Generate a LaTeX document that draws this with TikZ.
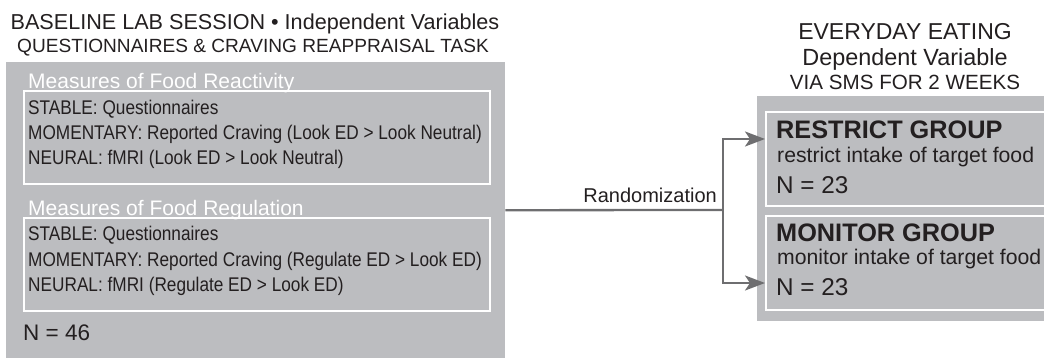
\documentclass[tikz,border=0pt]{standalone}
\usepackage{fontspec}
\setmainfont{Liberation Sans}
\newfontfamily\condfont[FakeStretch=0.87]{Liberation Sans}
\usetikzlibrary{arrows.meta}
\definecolor{boxgray}{RGB}{188,189,192}
\definecolor{ink}{RGB}{35,31,32}
\definecolor{conngray}{RGB}{110,110,112}
\tikzset{
  x=1pt, y=-1pt,
  graybox/.style={fill=boxgray, draw=none, inner sep=0pt, anchor=north west},
  innerbox/.style={fill=boxgray, draw=white, line width=2pt, inner sep=0pt, anchor=north west},
  txt/.style={inner sep=0pt, anchor=base west, text=ink},
  ctxt/.style={inner sep=0pt, anchor=base, text=ink},
  head/.style={ctxt, font=\fontsize{21.6}{26}\selectfont},
  subhead/.style={ctxt, font=\fontsize{19.1}{23}\selectfont},
  measure/.style={inner sep=0pt, anchor=base west, text=white, font=\fontsize{21}{25}\selectfont},
  body/.style={txt, font=\condfont\fontsize{19.8}{23}\selectfont},
  bignum/.style={txt, font=\fontsize{22.5}{27}\selectfont},
  grouptitle/.style={txt, font=\bfseries\fontsize{25.3}{29}\selectfont},
  groupdesc/.style={txt, font=\fontsize{21.2}{25}\selectfont},
  conn/.style={draw=conngray, line width=2.3pt},
  arr/.style={conn, -{Stealth[length=20pt,width=15pt,inset=5pt]}},
}
\begin{document}
\begin{tikzpicture}
\useasboundingbox (0,0) rectangle (1044,358);
% left block
\node[graybox, minimum width=499pt, minimum height=296pt] (lab) at (6,62) {};
\node[innerbox, minimum width=466pt, minimum height=93pt] (react) at (23,90) {};
\node[innerbox, minimum width=466pt, minimum height=93pt] (reg) at (23,217) {};
\node[head] (t1) at (255,30) {BASELINE LAB SESSION • Independent Variables};
\node[subhead] (t2) at (253,53) {QUESTIONNAIRES \& CRAVING REAPPRAISAL TASK};
\node[measure] (m1) at (28,88.5) {Measures of Food Reactivity};
\node[body] (r1) at (28,115) {STABLE: Questionnaires};
\node[body] (r2) at (28,140) {MOMENTARY: Reported Craving (Look ED > Look Neutral)};
\node[body] (r3) at (28,165) {NEURAL: fMRI (Look ED > Look Neutral)};
\node[measure] (m2) at (28,216) {Measures of Food Regulation};
\node[body] (g1) at (28,240.5) {STABLE: Questionnaires};
\node[body] (g2) at (28,266) {MOMENTARY: Reported Craving (Regulate ED > Look ED)};
\node[body] (g3) at (28,291.5) {NEURAL: fMRI (Regulate ED > Look ED)};
\node[bignum] (n46) at (23,340) {N = 46};
% right block
\node[graybox, minimum width=300pt, minimum height=225pt] (eat) at (757,96) {};
\node[innerbox, minimum width=290pt, minimum height=94pt] (restrict) at (765,111) {};
\node[innerbox, minimum width=290pt, minimum height=94pt] (monitor) at (765,215) {};
\node[head, font=\fontsize{23}{28}\selectfont] (e1) at (905,40) {EVERYDAY EATING};
\node[head, font=\fontsize{23.4}{28}\selectfont] (e2) at (905,66) {Dependent Variable};
\node[subhead, font=\fontsize{20.6}{25}\selectfont] (e3) at (905,90) {VIA SMS FOR 2 WEEKS};
\node[grouptitle] (rt) at (776,139) {RESTRICT GROUP};
\node[groupdesc] (rd) at (777,163) {restrict intake of target food};
\node[bignum, font=\fontsize{24.3}{28}\selectfont] (rn) at (776,194) {N = 23};
\node[grouptitle] (mt) at (776,241) {MONITOR GROUP};
\node[groupdesc] (md) at (777,265) {monitor intake of target food};
\node[bignum, font=\fontsize{24.3}{28}\selectfont] (mn) at (776,295.5) {N = 23};
% connectors
\coordinate (split) at (723,210);
\draw[conn] (lab.east) -- (split);
\node[txt, anchor=base east, font=\fontsize{20}{24}\selectfont] (rand) at (717,203) {Randomization};
\draw[arr] (split) |- ([yshift=20pt]restrict.west);
\draw[arr] (split) |- ([yshift=-20pt]monitor.west);
\end{tikzpicture}
\end{document}
